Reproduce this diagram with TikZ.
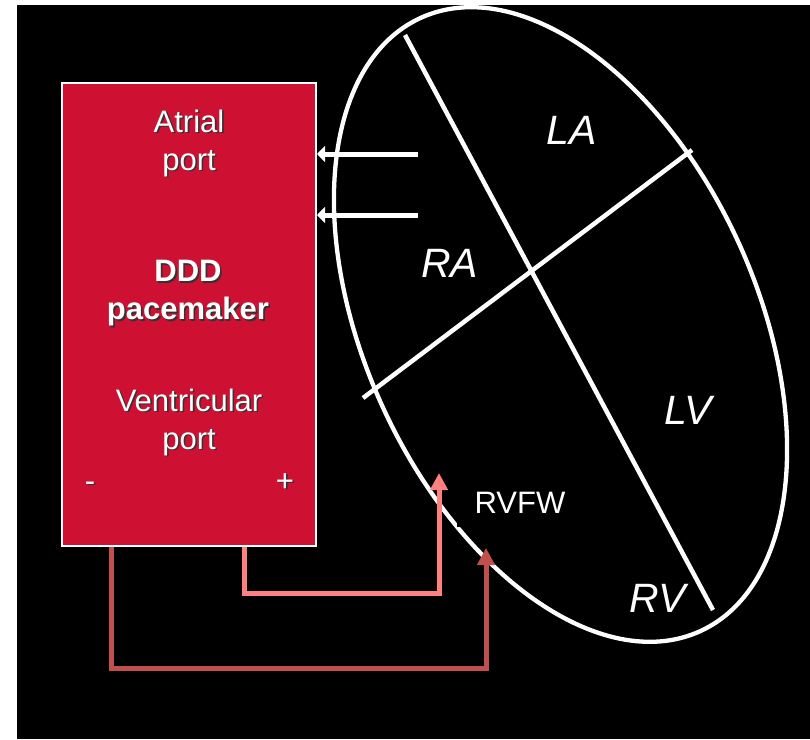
\documentclass[tikz,border=0pt]{standalone}
\usepackage{fontspec}
\setmainfont{Liberation Sans}
\usetikzlibrary{arrows.meta}

\definecolor{pacered}{RGB}{206,17,50}
\definecolor{leadpink}{RGB}{255,128,128}
\definecolor{leaddark}{RGB}{192,80,77}

% white text with a small dark drop shadow
\newcommand{\shadowed}[1]{\makebox[0pt][l]{\kern1.6pt\raisebox{-1.6pt}{\color{black!80}#1}}#1}

\tikzset{
  boxtext/.style={text=white, align=center, font=\fontsize{31}{38}\selectfont},
  chamber/.style={text=white, anchor=base, font=\fontsize{41}{48}\selectfont\itshape},
  wall/.style={white, line width=4.5pt},
  atrwire/.style={white, line width=5pt, -{Triangle[length=8pt,width=16pt]}},
  lead/.style={line width=5pt, -{Triangle[length=17pt,width=17pt]}},
}

\begin{document}
\begin{tikzpicture}[x=1pt, y=-1pt]
    \useasboundingbox (0,0) rectangle (810,739);
    \fill[white] (0,0) rectangle (810,739);
    \fill[black] (17,5) rectangle (810,739);

    % Heart (ellipse with septum lines)
    \draw[white, line width=4.3pt, rotate around={-65.5:(560.5,324.5)}]
        (560.5,324.5) ellipse [x radius=337, y radius=196];
    \draw[wall] (405,35) -- (713,610);
    \draw[wall] (363,398) -- (692,150);

    % Chamber labels
    \node[chamber] (la) at (572,144) {LA};
    \node[chamber] (ra) at (449.5,277) {RA};
    \node[chamber] (lv) at (688,424) {LV};
    \node[chamber] (rv) at (657.5,612) {RV};
    \node[text=white, fill=black, font=\fontsize{31}{38}\selectfont,
          inner xsep=18pt, inner ysep=14pt, anchor=base] (rvfw) at (520,513) {RVFW};

    % Pacemaker box
    \node[draw=white, line width=2pt, fill=pacered, minimum width=254pt,
          minimum height=463pt, inner sep=0pt, anchor=north west] (pacer) at (61,82) {};
    \node[boxtext] (atrial) at (189,144) {\shadowed{Atrial}\\\shadowed{port}};
    \node[boxtext, font=\fontsize{31}{38}\selectfont\bfseries] (ddd) at (188,294)
        {\shadowed{DDD}\\\shadowed{pacemaker}};
    \node[boxtext] (ventr) at (189,423) {\shadowed{Ventricular}\\\shadowed{port}};
    \node[boxtext, anchor=base] (minus) at (90,491) {\shadowed{-}};
    \node[boxtext, anchor=base] (plus) at (285,491) {\shadowed{+}};

    % Atrial leads
    \coordinate (atrin1) at (418,154);
    \coordinate (atrin2) at (418,215);
    \draw[atrwire] (atrin1) -- (atrin1 -| pacer.east);
    \draw[atrwire] (atrin2) -- (atrin2 -| pacer.east);

    % Ventricular leads
    \coordinate (pinkturn) at (439,593);
    \coordinate (pinktip) at (439,473);
    \coordinate (darkturn) at (486,668);
    \coordinate (darktip) at (486,548);
    \draw[lead, leadpink] ([xshift=55pt]pacer.south) |- (pinkturn) -- (pinktip);
    \draw[lead, leaddark] ([xshift=-78pt]pacer.south) |- (darkturn) -- (darktip);
\end{tikzpicture}
\end{document}
